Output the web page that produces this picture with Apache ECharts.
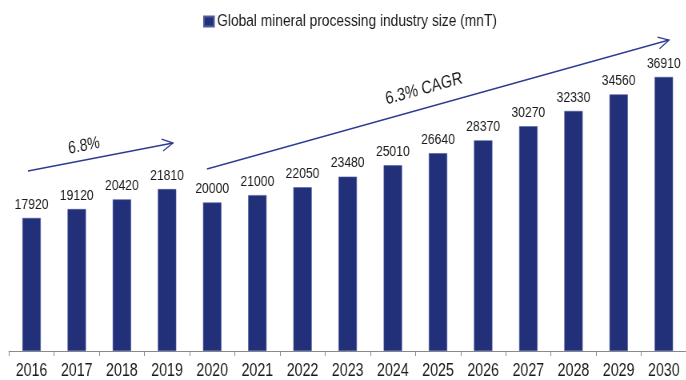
<!DOCTYPE html>
<html>
<head>
<meta charset="utf-8">
<script src="https://cdn.jsdelivr.net/npm/echarts@6/dist/echarts.min.js"></script>
<style>
  html, body { margin: 0; padding: 0; background: #fff; overflow: hidden; }
  /* The chart is laid out wider and squeezed horizontally, giving the
     condensed lettering of the original report style. */
  #chart { width: 857.5px; height: 380px; transform: scaleX(0.8); transform-origin: 0 0; }
</style>
</head>
<body>
<div id="chart"></div>
<script>
// Global mineral processing industry size, million tonnes
const years = ['2016', '2017', '2018', '2019', '2020', '2021', '2022', '2023',
               '2024', '2025', '2026', '2027', '2028', '2029', '2030'];
const industrySize = [17920, 19120, 20420, 21810, 20000, 21000, 22050, 23480,
                      25010, 26640, 28370, 30270, 32330, 34560, 36910];
const seriesName = 'Global mineral processing industry size (mnT)';
const historicGrowth = '6.8%';
const forecastGrowth = '6.3% CAGR';

const SX = 0.8;   // horizontal squeeze applied to the whole chart
const FONT = "'Liberation Sans', Arial, sans-serif";
const NAVY = '#22307a';
const ARROW = '#2b3b8f';
const TEXT = '#1a1a1a';

// Growth arrow between two page points, with an open chevron head
function arrow(x1, y1, x2, y2) {
  const ax = x1 / SX, bx = x2 / SX;
  const dx = bx - ax, dy = y2 - y1;
  const len = Math.sqrt(dx * dx + dy * dy);
  return {
    type: 'group',
    x: ax, y: y1,
    rotation: Math.atan2(-dy, dx),
    children: [
      { type: 'line', shape: { x1: 0, y1: 0, x2: len, y2: 0 },
        style: { stroke: ARROW, lineWidth: 1.3 } },
      { type: 'polyline', shape: { points: [[len - 13.5, -6], [len, 0], [len - 13.5, 6]] },
        style: { stroke: ARROW, lineWidth: 1.3, fill: null } }
    ]
  };
}

// Slanted annotation; deg is the slope as seen on the page
function slantedText(x, y, deg, size, text) {
  return {
    type: 'text',
    x: x / SX, y: y,
    rotation: Math.atan(SX * Math.tan(deg * Math.PI / 180)),
    style: { text: text, font: size + 'px ' + FONT, fill: TEXT,
             align: 'center', verticalAlign: 'middle' }
  };
}

const chart = echarts.init(document.getElementById('chart'), null, { renderer: 'canvas' });
chart.setOption({
  animation: false,
  backgroundColor: '#fff',
  textStyle: { fontFamily: FONT },
  legend: {
    left: 249, top: 8,
    itemWidth: 12.5, itemHeight: 10, itemGap: 4,
    icon: 'rect',
    textStyle: { fontSize: 17.2, color: TEXT, fontFamily: FONT, padding: [0, 0, 0, -1] },
    data: [seriesName]
  },
  grid: { left: 11.25, top: 54, width: 853.75, height: 297, containLabel: false },
  xAxis: {
    type: 'category',
    data: years,
    boundaryGap: true,
    axisLine: { lineStyle: { color: '#8a8a8a', width: 1 } },
    axisTick: { show: true, length: 5, lineStyle: { color: '#8a8a8a' } },
    axisLabel: { color: TEXT, fontSize: 17.8, fontFamily: FONT, margin: 11, interval: 0 }
  },
  yAxis: {
    type: 'value',
    min: 0, max: 40000,
    show: false,
    splitLine: { show: false }
  },
  series: [{
    name: seriesName,
    type: 'bar',
    data: industrySize,
    barWidth: 23,
    itemStyle: { color: NAVY, borderColor: '#4e5c9e', borderWidth: 0.6 },
    label: {
      show: true, position: 'top', distance: 6,
      color: TEXT, fontSize: 15.2, fontFamily: FONT
    }
  }],
  graphic: [
    arrow(28, 171, 173, 143),
    arrow(207, 169, 669, 40),
    slantedText(84, 146, 10.9, 17.5, historicGrowth),
    slantedText(424, 89, 15.6, 18, forecastGrowth)
  ]
});
</script>
</body>
</html>
